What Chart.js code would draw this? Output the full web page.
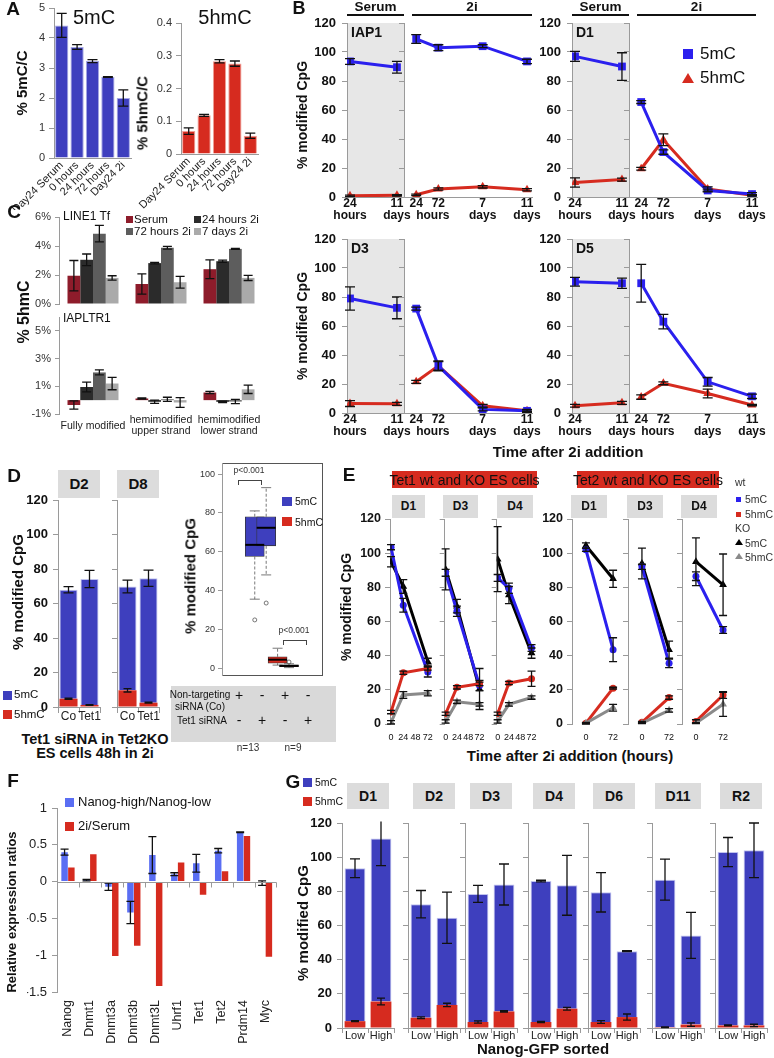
<!DOCTYPE html>
<html>
<head>
<meta charset="utf-8">
<script src="https://cdn.jsdelivr.net/npm/chart.js@4.4.1/dist/chart.umd.min.js"></script>
<style>
  body { margin: 0; background: #fff; }
  #fig { position: relative; width: 774px; height: 1058px; overflow: hidden; font-family: "Liberation Sans", Arial, Helvetica, sans-serif; color: #111; }
  #fig canvas { position: absolute; }
  .t { position: absolute; white-space: pre; line-height: 1.15; }
  .r { position: absolute; box-sizing: border-box; }
</style>
</head>
<body>
<div id="fig"></div>
<script>
// ---- Panel A: global 5mC / 5hmC levels ----
const aCats = ['Day24 Serum', '0 hours', '24 hours', '72 hours', 'Day24 2i'];
const a5mC = [4.42, 3.70, 3.23, 2.70, 2.00];
const a5mCErr = [0.40, 0.08, 0.05, 0.01, 0.27];
const a5hmC = [0.070, 0.118, 0.283, 0.276, 0.056];
const a5hmCErr = [0.010, 0.003, 0.005, 0.008, 0.008];

// ---- Panel B: time course per region (serum part, 2i part) ----
const bRegions = ['IAP1', 'D1', 'D3', 'D5'];
const bSerumDays = [1, 11];
const b2iDays = [1, 3, 7, 11];
const bSerumTicks = { 1: ['24', 'hours'], 11: ['11', 'days'] };
const b2iTicks = { 1: ['24', ''], 2.5: ['', 'hours'], 3: ['72', ''], 7: ['7', 'days'], 11: ['11', 'days'] };
const bSerum5mC = [[93.5, 89.5], [97, 90], [79, 72.5], [90.5, 89.5]];
const bSerum5mCErr = [[2, 4], [3.5, 9.5], [8, 7.5], [3, 3.5]];
const bSerum5hmC = [[0.8, 1.2], [10, 12], [6.5, 6.3], [5, 7]];
const bSerum5hmCErr = [[0.5, 0.5], [3.2, 1], [2, 1], [1, 1]];
const b2i5mC = [[109, 103, 104, 93.5], [65.5, 31, 4.5, 2], [72, 32.5, 2.5, 1.5], [89.5, 63, 21.5, 11.5]];
const b2i5mCErr = [[3, 2, 1, 1.5], [1, 1.5, 1, 1], [1, 3.5, 1, 1], [13, 5, 3, 1.5]];
const b2i5hmC = [[1.5, 5.5, 7, 5], [19.5, 39.5, 5.5, 1.2], [21.5, 32.5, 5, 1.5], [11, 20.5, 13.5, 5.5]];
const b2i5hmCErr = [[0.5, 0.8, 0.8, 0.8], [1, 4, 1.5, 0.5], [1, 3, 1, 0.5], [1.5, 1, 3, 0.5]];

// ---- Panel C: % 5hmC by strand, one row per condition ----
const cGroups = ['Fully modified', ['hemimodified', 'upper strand'], ['hemimodified', 'lower strand']];
const cConditions = ['Serum', '24 hours 2i', '72 hours 2i', '7 days 2i'];
const cLine1 = [[1.95, 1.38, 2.4], [3.05, 2.82, 2.95], [4.85, 3.88, 3.8], [1.8, 1.5, 1.8]];
const cLine1Err = [[1.05, 0.7, 0.65], [0.4, 0.05, 0.07], [0.57, 0.1, 0.03], [0.15, 0.4, 0.18]];
const cIap = [[-0.35, 0.12, 0.55], [0.95, -0.12, -0.12], [2.0, 0.06, -0.1], [1.2, -0.17, 0.78]];
const cIapErr = [[0.3, 0.05, 0.08], [0.35, 0.12, 0.05], [0.18, 0.15, 0.15], [0.45, 0.35, 0.3]];

// ---- Panel D: Tet1 siRNA in Tet2KO cells ----
const dPanels = ['D2', 'D8'];
const dSamples = ['Co', 'Tet1'];
const d5hmC = [[4.8, 1.2], [9.7, 2.5]];
const d5hmCErr = [[0.3, 0.2], [1.0, 0.3]];
const d5mC = [[63.2, 73.0], [60.2, 72.1]];
const dTotalErr = [[1.8, 5.0], [3.7, 4.7]];
const boxGroups = ['5mC Co', '5mC Tet1', '5hmC Co', '5hmC Tet1'];
const boxPos = [1, 2, 3, 4];
const boxMin = [35.5, 48, 1.5, 0.2];
const boxQ1 = [57.5, 63, 2.5, 0.7];
const boxMed = [63.5, 72.3, 4.3, 1.1];
const boxQ3 = [78, 78, 5.8, 1.6];
const boxMax = [81, 93, 10.2, 2.2];
const boxOutliers = [[24.8], [33.5], [], [3.1]];

// ---- Panel E: Tet1 / Tet2 wt and KO time course ----
const eTet1Panels = ['D1', 'D3', 'D4'];
const eTet2Panels = ['D1', 'D3', 'D4'];
const eTet1Hours = [0, 24, 72];
const eTet2Hours = [0, 72];
const eTet1Ticks = { 0: '0', 24: '24', 48: '48', 72: '72' };
const eTet2Ticks = { 0: '0', 72: '72' };
const eTet1Wt5mC = [[103.5, 69.5, 30.5], [88.5, 66, 22.5], [85.5, 79.5, 44.5]];
const eTet1Wt5mCErr = [[1.5, 4, 3], [2, 3, 3], [2, 3, 2]];
const eTet1Ko5mC = [[95, 80.5, 36.5], [90.5, 69, 20.5], [96.5, 75.5, 41.5]];
const eTet1Ko5mCErr = [[3, 4, 2], [12, 4, 12], [19, 5, 3]];
const eTet1Wt5hmC = [[7, 30, 32.5], [6, 21.5, 23.5], [6, 24, 26.5]];
const eTet1Wt5hmCErr = [[1, 1, 1], [1, 1, 1], [1, 1, 4.5]];
const eTet1Ko5hmC = [[1, 17, 18], [1.5, 13, 11.5], [1.5, 11.5, 15.5]];
const eTet1Ko5hmCErr = [[1, 2, 1.5], [1, 1, 1], [1, 1, 1]];
const eTet2Wt5mC = [[102, 43.5], [92, 35.5], [86.5, 55]];
const eTet2Wt5mCErr = [[1, 7], [1.5, 2.5], [2.5, 2]];
const eTet2Ko5mC = [[104.5, 85], [94, 43.5], [95, 81.5]];
const eTet2Ko5mCErr = [[1.5, 5], [9, 5], [14, 18]];
const eTet2Wt5hmC = [[0.5, 21], [1, 15.5], [1.5, 17]];
const eTet2Wt5hmCErr = [[0.5, 0.5], [0.5, 1], [1, 2]];
const eTet2Ko5hmC = [[0.5, 9.5], [0.5, 8], [0.5, 11.5]];
const eTet2Ko5hmCErr = [[0.3, 2], [0.3, 1], [0.3, 7]];

// ---- Panel F: relative expression ----
const fGenes = ['Nanog', 'Dnmt1', 'Dnmt3a', 'Dnmt3b', 'Dnmt3L', 'Uhrf1', 'Tet1', 'Tet2', 'Prdm14', 'Myc'];
const fNanogRatio = [0.40, 0.02, -0.07, -0.42, 0.36, 0.10, 0.25, 0.42, 0.67, -0.02];
const fNanogErr = [0.04, 0.01, 0.05, 0.15, 0.25, 0.02, 0.12, 0.03, 0.005, 0.03];
const f2iSerum = [0.19, 0.37, -1.01, -0.87, -1.42, 0.26, -0.18, 0.14, 0.62, -1.02];

// ---- Panel G: Nanog-GFP sorted cells ----
const gPanels = ['D1', 'D2', 'D3', 'D4', 'D6', 'D11', 'R2'];
const gSorts = ['Low', 'High'];
const g5hmC = [[4, 15.5], [6, 13.5], [3.5, 9.7], [3.5, 11.3], [3.5, 6.4], [0.5, 2], [1.5, 1.5]];
const g5hmCErr = [[0.3, 2], [0.5, 1], [0.7, 0.4], [0.4, 0.8], [0.8, 1.8], [0.2, 1], [0.3, 0.7]];
const g5mC = [[89.5, 95.5], [66.5, 51], [75, 74.3], [82.5, 72.2], [75.9, 38.6], [86.3, 52.2], [101.5, 102.5]];
const gTotalErr = [[5.5, 16], [8, 15], [5, 12], [0.5, 17.5], [11.5, 0.3], [12, 13.5], [8.5, 16]];

// ---- styles ----
const AXIS = '#9a9a9a';
const BAR_BLUE = '#3e3fbe';
const LINE_BLUE = '#2b20ee';
const RED = '#d62b1f';
const F_BLUE = '#5a6ef3';
const C_COLORS = ['#8e1c2b', '#2b2b2b', '#5d5d5d', '#aaaaaa'];
const BOX_COLORS = [BAR_BLUE, BAR_BLUE, RED, RED];

Chart.defaults.font.family = '"Liberation Sans", Arial, Helvetica, sans-serif';
Chart.defaults.color = '#111';

const fig = document.getElementById('fig');

// error bars drawn from each dataset's err array through the y scale
Chart.register({
  id: 'errorBars',
  afterDatasetsDraw(chart) {
    const ctx = chart.ctx, a = chart.chartArea;
    ctx.save();
    ctx.beginPath();
    ctx.rect(a.left - 30, a.top - 1.5, a.width + 60, a.height + 3);
    ctx.clip();
    chart.data.datasets.forEach((ds, i) => {
      if (!ds.err) return;
      const meta = chart.getDatasetMeta(i);
      const ys = chart.scales[meta.yAxisID];
      const cw = ds.cap || 4;
      ctx.strokeStyle = '#111';
      ctx.lineWidth = 1.3;
      meta.data.forEach((el, j) => {
        const e = ds.err[j];
        if (!e) return;
        const v = ys.getValueForPixel(el.y);
        const top = ys.getPixelForValue(v + e), bot = ys.getPixelForValue(v - e);
        ctx.beginPath();
        ctx.moveTo(el.x, top); ctx.lineTo(el.x, bot);
        ctx.moveTo(el.x - cw, top); ctx.lineTo(el.x + cw, top);
        ctx.moveTo(el.x - cw, bot); ctx.lineTo(el.x + cw, bot);
        ctx.stroke();
      });
    });
    ctx.restore();
  }
});

// optional shaded plot area
Chart.register({
  id: 'areaFill',
  beforeDraw(chart, args, opts) {
    if (!opts || !opts.color) return;
    const a = chart.chartArea, ctx = chart.ctx;
    ctx.save();
    ctx.fillStyle = opts.color;
    ctx.fillRect(a.left, a.top, a.width, a.height);
    ctx.restore();
  }
});

function text(str, x, y, o = {}) {
  const d = document.createElement('div');
  d.className = 't';
  d.textContent = str;
  const tx = o.align === 'l' ? '0' : o.align === 'r' ? '-100%' : '-50%';
  d.style.left = x + 'px';
  d.style.top = y + 'px';
  d.style.fontSize = (o.size || 12) + 'px';
  d.style.fontWeight = o.bold ? 'bold' : 'normal';
  d.style.textAlign = o.align === 'l' ? 'left' : 'center';
  if (o.color) d.style.color = o.color;
  d.style.transform = `translate(${tx}, -50%)` + (o.rot ? ` rotate(${o.rot}deg)` : '');
  fig.appendChild(d);
}

function rect(x0, y0, x1, y1, css) {
  const d = document.createElement('div');
  d.className = 'r';
  d.style.cssText = `left:${x0}px;top:${y0}px;width:${x1 - x0}px;height:${y1 - y0}px;${css}`;
  fig.appendChild(d);
}

function triangle(cx, cy, s, color) {
  const d = document.createElement('div');
  d.className = 'r';
  d.style.cssText = `left:${cx - s / 2}px;top:${cy - s * 0.45}px;width:0;height:0;` +
    `border-left:${s / 2}px solid transparent;border-right:${s / 2}px solid transparent;border-bottom:${s * 0.87}px solid ${color};`;
  fig.appendChild(d);
}

function tag(x0, y0, x1, y1, str, size) {
  rect(x0, y0, x1, y1, 'background:#dcdcdc;');
  text(str, (x0 + x1) / 2, (y0 + y1) / 2, { size, bold: true });
}

// chart area placed at [x0,y0,x1,y1] on the page; m = room for axes [left, top, right, bottom]
function makeChart(area, m, cfg) {
  const [x0, y0, x1, y1] = area, [l, t, r, b] = m;
  const w = x1 - x0 + l + r, h = y1 - y0 + t + b;
  const c = document.createElement('canvas');
  c.width = w; c.height = h;
  c.style.cssText = `left:${x0 - l}px;top:${y0 - t}px;width:${w}px;height:${h}px;`;
  fig.appendChild(c);
  const o = cfg.options = cfg.options || {};
  Object.assign(o, { responsive: false, animation: false, devicePixelRatio: 1 });
  o.layout = { autoPadding: false, padding: { left: 0, top: t, right: r, bottom: 0 } };
  o.plugins = Object.assign({ legend: { display: false }, tooltip: { enabled: false } }, o.plugins);
  o.scales.x.afterFit = s => { s.height = b; };
  o.scales.y.afterFit = s => { s.width = l; };
  return new Chart(c, cfg);
}

function yScale(min, max, step, o = {}) {
  const s = {
    min, max, stacked: !!o.stacked,
    ticks: { stepSize: step, display: o.labels !== false, font: o.font || { size: 13, weight: 'bold' }, color: o.color || '#111', padding: o.pad ?? 5 },
    grid: { drawOnChartArea: false, tickLength: o.tl ?? 5, color: AXIS },
    border: { color: AXIS }
  };
  if (o.cb) s.ticks.callback = o.cb;
  if (o.only) s.afterBuildTicks = sc => { sc.ticks = o.only.map(v => ({ value: v })); };
  return s;
}

function catX(o = {}) {
  return {
    stacked: !!o.stacked,
    ticks: { display: o.labels !== false, font: o.font || { size: 11 }, color: '#222', padding: o.pad ?? 2,
      maxRotation: o.rot || 0, minRotation: o.rot || 0, autoSkip: false, crossAlign: o.cross || 'near' },
    grid: { display: !!o.tl, drawOnChartArea: false, tickLength: o.tl || 0, color: AXIS },
    border: { display: o.border !== false, color: AXIS }
  };
}

function linX(min, max, labels, font, pad, border) {
  const vals = Object.keys(labels).map(Number);
  return {
    type: 'linear', min, max,
    afterBuildTicks: s => { s.ticks = vals.map(v => ({ value: v })); },
    ticks: { callback: v => labels[v] ?? '', font, color: '#111', padding: pad, maxRotation: 0, minRotation: 0, autoSkip: false },
    grid: { display: false, drawTicks: false, tickLength: 0 },
    border: { display: border, color: AXIS }
  };
}

function lineSet(xs, ys, err, color, style, r, cap) {
  return {
    data: xs.map((x, i) => ({ x, y: ys[i] })), err, cap: cap || 5,
    borderColor: color, backgroundColor: color, pointBackgroundColor: color, pointBorderColor: color,
    borderWidth: 3, pointStyle: style, pointRadius: r, pointBorderWidth: 0, tension: 0
  };
}

// ================= Panel A =================
makeChart([54, 8, 131, 158], [50, 16, 6, 52], {
  type: 'bar',
  data: { labels: aCats, datasets: [{ data: a5mC, err: a5mCErr, cap: 5, backgroundColor: BAR_BLUE, borderColor: '#a6a8e4', borderWidth: 1, barPercentage: 0.86, categoryPercentage: 1 }] },
  options: { scales: { x: catX({ rot: 45, font: { size: 11 }, pad: 1 }), y: yScale(0, 5, 1, { font: { size: 11 }, color: '#333', pad: 4 }) } }
});
makeChart([181, 23, 258, 154], [50, 16, 10, 55], {
  type: 'bar',
  data: { labels: aCats, datasets: [{ data: a5hmC, err: a5hmCErr, cap: 5, backgroundColor: RED, borderColor: '#f0a096', borderWidth: 1, barPercentage: 0.86, categoryPercentage: 1 }] },
  options: { scales: { x: catX({ rot: 45, font: { size: 11 }, pad: 1 }), y: yScale(0, 0.4, 0.1, { font: { size: 11 }, color: '#333', pad: 4 }) } }
});
text('A', 13, 9, { size: 19, bold: true });
text('5mC', 94, 17, { size: 20 });
text('5hmC', 225, 17, { size: 20 });
text('% 5mC/C', 22, 83, { size: 15, bold: true, rot: -90 });
text('% 5hmC/C', 142, 113, { size: 15, bold: true, rot: -90 });

// ================= Panel B =================
function bPanel(k, sx, top) {
  const mid = sx + 57, end = sx + 185, bot = top + 174;
  const xf = { size: 12, weight: 'bold', lineHeight: 1.0 };
  makeChart([sx, top, mid, bot], [42, 16, 22, 40], {
    type: 'line',
    data: { datasets: [
      lineSet(bSerumDays, bSerum5mC[k], bSerum5mCErr[k], LINE_BLUE, 'rect', 5.5),
      lineSet(bSerumDays, bSerum5hmC[k], bSerum5hmCErr[k], RED, 'triangle', 5)
    ] },
    options: {
      plugins: { areaFill: { color: '#e7e7e7' } },
      scales: { x: linX(0.36, 12.5, bSerumTicks, xf, 1, true), y: yScale(0, 120, 20, { pad: 6 }) }
    }
  });
  makeChart([mid, top, end, bot], [6, 16, 22, 40], {
    type: 'line',
    data: { datasets: [
      lineSet(b2iDays, b2i5mC[k], b2i5mCErr[k], LINE_BLUE, 'rect', 5.5),
      lineSet(b2iDays, b2i5hmC[k], b2i5hmCErr[k], RED, 'triangle', 5)
    ] },
    options: { scales: { x: linX(-0.1, 11.45, b2iTicks, xf, 1, true), y: yScale(0, 120, 20, { labels: false }) } }
  });
  text(bRegions[k], sx + 4, top + 9, { size: 14, bold: true, align: 'l' });
}
bPanel(0, 347, 23);
bPanel(1, 572, 23);
bPanel(2, 347, 239);
bPanel(3, 572, 239);
text('B', 299, 8, { size: 18, bold: true });
[[347, 404, 'Serum'], [412, 532, '2i'], [572, 629, 'Serum'], [637, 756, '2i']].forEach(([a, b, s]) => {
  rect(a, 14, b, 16, 'background:#111;');
  text(s, (a + b) / 2, 7, { size: 13.5, bold: true });
});
rect(683, 49, 693, 59, `background:${LINE_BLUE};`);
text('5mC', 700, 54, { size: 17, align: 'l' });
triangle(688, 78, 12, RED);
text('5hmC', 700, 78, { size: 17, align: 'l' });
text('% modified CpG', 302, 115, { size: 14, bold: true, rot: -90 });
text('% modified CpG', 302, 326, { size: 14, bold: true, rot: -90 });
text('Time after 2i addition', 568, 452, { size: 15, bold: true });

// ================= Panel C =================
function cChart(area, vals, errs, min, showX) {
  makeChart(area, [30, 16, 12, showX ? 36 : 14], {
    type: 'bar',
    data: { labels: cGroups, datasets: cConditions.map((name, k) => ({
      label: name, data: vals[k], err: errs[k], cap: 4.5, backgroundColor: C_COLORS[k], categoryPercentage: 0.75, barPercentage: 1
    })) },
    options: { scales: {
      x: catX({ labels: showX, border: false, font: { size: 10.5, lineHeight: 1.1 }, cross: 'center', pad: 6 }),
      y: yScale(min, 6, 1, { font: { size: 11 }, color: '#333', pad: 4, tl: 4, cb: v => v + '%' })
    } }
  });
}
cChart([59, 217, 263, 304], cLine1, cLine1Err, 0, false);
cChart([59, 317, 263, 414], cIap, cIapErr, -1, true);
text('C', 14, 212, { size: 19, bold: true });
text('LINE1 Tf', 63, 217, { size: 12, align: 'l' });
text('IAPLTR1', 63, 319, { size: 12, align: 'l' });
[[126, 220, 0], [194, 220, 1], [126, 232, 2], [194, 232, 3]].forEach(([x, y, k]) => {
  rect(x, y - 4, x + 7, y + 3, `background:${C_COLORS[k]};`);
  text(cConditions[k], x + 8, y, { size: 11.5, align: 'l' });
});
text('% 5hmC', 24, 312, { size: 16, bold: true, rot: -90 });

// ================= Panel D =================
dPanels.forEach((name, k) => {
  const x0 = k === 0 ? 58 : 117;
  makeChart([x0, 500, x0 + 42, 707], [k === 0 ? 36 : 6, 16, 10, 20], {
    type: 'bar',
    data: { labels: dSamples, datasets: [
      { data: d5hmC[k], err: d5hmCErr[k], cap: 4, backgroundColor: RED, barPercentage: 0.86, categoryPercentage: 1 },
      { data: d5mC[k], err: dTotalErr[k], cap: 5, backgroundColor: BAR_BLUE, borderColor: '#c0c3ee', borderWidth: 1, barPercentage: 0.86, categoryPercentage: 1 }
    ] },
    options: { scales: {
      x: catX({ stacked: true, tl: 6, pad: -4, font: { size: 12 } }),
      y: yScale(0, 120, 20, { stacked: true, labels: k === 0, pad: 5 })
    } }
  });
  tag(x0, 470, x0 + 42, 498, name, 15);
});
text('D', 14, 476, { size: 19, bold: true });
text('% modified CpG', 18, 592, { size: 15, bold: true, rot: -90 });
rect(3, 691, 12, 700, `background:${BAR_BLUE};`);
text('5mC', 14, 695, { size: 11.5, align: 'l' });
rect(3, 710, 12, 719, `background:${RED};`);
text('5hmC', 14, 715, { size: 11.5, align: 'l' });
text('Tet1 siRNA in Tet2KO', 95, 739, { size: 14.5, bold: true });
text('ES cells 48h in 2i', 95, 753, { size: 14.5, bold: true });

// boxplot
const boxWhiskers = {
  id: 'boxWhiskers',
  afterDatasetsDraw(chart) {
    const { ctx, scales: { x, y } } = chart;
    ctx.save();
    boxPos.forEach((p, i) => {
      const px = x.getPixelForValue(p);
      const yMin = y.getPixelForValue(boxMin[i]), yMax = y.getPixelForValue(boxMax[i]);
      ctx.strokeStyle = '#555'; ctx.lineWidth = 0.8;
      ctx.setLineDash([3, 2]);
      ctx.beginPath();
      ctx.moveTo(px, y.getPixelForValue(boxQ3[i])); ctx.lineTo(px, yMax);
      ctx.moveTo(px, y.getPixelForValue(boxQ1[i])); ctx.lineTo(px, yMin);
      ctx.stroke();
      ctx.setLineDash([]);
      ctx.beginPath();
      ctx.moveTo(px - 5, yMax); ctx.lineTo(px + 5, yMax);
      ctx.moveTo(px - 5, yMin); ctx.lineTo(px + 5, yMin);
      ctx.stroke();
      const ym = y.getPixelForValue(boxMed[i]);
      ctx.strokeStyle = '#000'; ctx.lineWidth = 2;
      ctx.beginPath(); ctx.moveTo(px - 9.5, ym); ctx.lineTo(px + 9.5, ym); ctx.stroke();
    });
    ctx.restore();
  }
};
rect(222, 463, 323, 676, 'border:1px solid #555;');
makeChart([222, 463, 322, 675], [30, 16, 10, 14], {
  type: 'bar',
  data: { datasets: [
    { data: boxPos.map((p, i) => ({ x: p, y: [boxQ1[i], boxQ3[i]] })), backgroundColor: BOX_COLORS,
      borderColor: '#333', borderWidth: 0.8, borderSkipped: false, barThickness: 19 },
    { type: 'scatter', data: boxOutliers.flatMap((arr, i) => arr.map(v => ({ x: boxPos[i], y: v }))),
      pointRadius: 2, pointStyle: 'circle', borderColor: '#555', backgroundColor: 'rgba(0,0,0,0)', borderWidth: 0.8 }
  ] },
  options: { scales: {
    x: { type: 'linear', min: 0.32, max: 4.7, ticks: { display: false }, grid: { display: false, drawTicks: false, tickLength: 0 }, border: { display: false } },
    y: yScale(-3.6, 105.7, 20, { only: [0, 20, 40, 60, 80, 100], font: { size: 9 }, color: '#333', pad: 3, tl: 4 })
  } },
  plugins: [boxWhiskers]
});
text('p<0.001', 249, 471, { size: 8.5, color: '#333' });
rect(238, 480, 262, 485, 'border:1px solid #444;border-bottom:none;');
text('p<0.001', 294, 631, { size: 8.5, color: '#333' });
rect(283, 640, 307, 645, 'border:1px solid #444;border-bottom:none;');
rect(282, 497, 292, 506, `background:${BAR_BLUE};`);
text('5mC', 295, 501, { size: 10.5, align: 'l' });
rect(282, 517, 292, 526, `background:${RED};`);
text('5hmC', 295, 522, { size: 10.5, align: 'l' });
text('% modified CpG', 190, 576, { size: 15, bold: true, rot: -90 });
rect(171, 686, 336, 742, 'background:#d9d9d9;');
text('Non-targeting', 200, 695, { size: 10 });
text('siRNA (Co)', 200, 707, { size: 10 });
text('Tet1 siRNA', 202, 721, { size: 10 });
[['+', '-', '+', '-'], ['-', '+', '-', '+']].forEach((row, r) => {
  row.forEach((s, i) => text(s, 239 + i * 23, r === 0 ? 695 : 720, { size: 14 }));
});
text('n=13', 248, 748, { size: 10, color: '#333' });
text('n=9', 293, 748, { size: 10, color: '#333' });

// ================= Panel E =================
function eChart(x0, x1, first, hours, ticks, xmin, xmax, s) {
  makeChart([x0, 519, x1, 724], [first ? 30 : 6, 16, 20, 20], {
    type: 'line',
    data: { datasets: [
      lineSet(hours, s.ko5hmC, s.ko5hmCErr, '#8a8a8a', 'triangle', 4.5, 4),
      lineSet(hours, s.wt5hmC, s.wt5hmCErr, RED, 'circle', 3.5, 4),
      lineSet(hours, s.wt5mC, s.wt5mCErr, LINE_BLUE, 'circle', 3.5, 4),
      lineSet(hours, s.ko5mC, s.ko5mCErr, '#000', 'triangle', 4.5, 4)
    ] },
    options: { scales: {
      x: linX(xmin, xmax, ticks, { size: 9 }, 8, false),
      y: yScale(0, 120, 20, { labels: first, font: { size: 12.5, weight: 'bold' }, pad: 4 })
    } }
  });
}
const eTet1Areas = [[390, 437], [441, 488], [493, 540]];
const eTet2Areas = [[572, 624], [628, 680], [682, 734]];
eTet1Panels.forEach((name, k) => {
  eChart(eTet1Areas[k][0], eTet1Areas[k][1], k === 0, eTet1Hours, eTet1Ticks, -2, 90, {
    wt5mC: eTet1Wt5mC[k], wt5mCErr: eTet1Wt5mCErr[k], ko5mC: eTet1Ko5mC[k], ko5mCErr: eTet1Ko5mCErr[k],
    wt5hmC: eTet1Wt5hmC[k], wt5hmCErr: eTet1Wt5hmCErr[k], ko5hmC: eTet1Ko5hmC[k], ko5hmCErr: eTet1Ko5hmCErr[k]
  });
});
eTet2Panels.forEach((name, k) => {
  eChart(eTet2Areas[k][0], eTet2Areas[k][1], k === 0, eTet2Hours, eTet2Ticks, -37, 101, {
    wt5mC: eTet2Wt5mC[k], wt5mCErr: eTet2Wt5mCErr[k], ko5mC: eTet2Ko5mC[k], ko5mCErr: eTet2Ko5mCErr[k],
    wt5hmC: eTet2Wt5hmC[k], wt5hmCErr: eTet2Wt5hmCErr[k], ko5hmC: eTet2Ko5hmC[k], ko5hmCErr: eTet2Ko5hmCErr[k]
  });
});
text('E', 349, 475, { size: 19, bold: true });
rect(392, 471, 537, 488, `background:${RED};`);
text('Tet1 wt and KO ES cells', 464.5, 479.5, { size: 14 });
rect(577, 471, 719, 488, `background:${RED};`);
text('Tet2 wt and KO ES cells', 648, 479.5, { size: 14 });
[[392, 425], [443, 478], [497, 533]].forEach(([a, b], k) => tag(a, 495, b, 518, eTet1Panels[k], 12));
[[571, 607], [627, 663], [681, 717]].forEach(([a, b], k) => tag(a, 495, b, 518, eTet2Panels[k], 12));
text('wt', 735, 482, { size: 10.5, align: 'l', color: '#333' });
rect(736, 497, 741, 502, `background:${LINE_BLUE};`);
text('5mC', 745, 499, { size: 10.5, align: 'l', color: '#333' });
rect(736, 512, 741, 517, `background:${RED};`);
text('5hmC', 745, 514, { size: 10.5, align: 'l', color: '#333' });
text('KO', 735, 528, { size: 10.5, align: 'l', color: '#333' });
triangle(738.5, 543, 8, '#000');
text('5mC', 745, 543, { size: 10.5, align: 'l', color: '#333' });
triangle(738.5, 557, 8, '#8a8a8a');
text('5hmC', 745, 557, { size: 10.5, align: 'l', color: '#333' });
text('% modified CpG', 346, 607, { size: 14, bold: true, rot: -90 });
text('Time after 2i addition (hours)', 570, 756, { size: 15, bold: true });

// ================= Panel F =================
const fZeroAxis = {
  id: 'fZeroAxis',
  afterDatasetsDraw(chart) {
    const { ctx, chartArea: a, scales: { y } } = chart;
    const y0 = Math.round(y.getPixelForValue(0)) + 0.5;
    const n = chart.data.labels.length;
    ctx.save();
    ctx.strokeStyle = AXIS; ctx.lineWidth = 1;
    ctx.beginPath();
    ctx.moveTo(a.left, y0); ctx.lineTo(a.right, y0);
    for (let i = 1; i <= n; i++) {
      const px = Math.round(a.left + i * a.width / n) + 0.5;
      ctx.moveTo(px, y0); ctx.lineTo(px, y0 + 5);
    }
    ctx.stroke();
    ctx.restore();
  }
};
makeChart([57, 808, 279, 992], [30, 16, 10, 60], {
  type: 'bar',
  data: { labels: fGenes, datasets: [
    { data: fNanogRatio, err: fNanogErr, cap: 4, backgroundColor: F_BLUE, categoryPercentage: 0.62, barPercentage: 0.95 },
    { data: f2iSerum, backgroundColor: RED, categoryPercentage: 0.62, barPercentage: 0.95 }
  ] },
  options: { scales: {
    x: catX({ rot: 90, border: false, font: { size: 12.5 }, pad: 8 }),
    y: yScale(-1.5, 1, 0.5, { font: { size: 13 }, color: '#222', pad: 5, cb: v => String(v) })
  } },
  plugins: [fZeroAxis]
});
text('F', 13, 781, { size: 19, bold: true });
rect(65, 798, 74, 807, `background:${F_BLUE};`);
text('Nanog-high/Nanog-low', 78, 802, { size: 13, align: 'l' });
rect(65, 822, 74, 831, `background:${RED};`);
text('2i/Serum', 78, 826, { size: 13, align: 'l' });
text('Relative expression ratios', 12, 912, { size: 13, bold: true, rot: -90 });

// ================= Panel G =================
const gAxes = [342, 408, 465, 528, 588, 652, 715];
gPanels.forEach((name, k) => {
  const x0 = gAxes[k];
  makeChart([x0, 823, x0 + 52, 1028], [k === 0 ? 36 : 6, 16, 10, 18], {
    type: 'bar',
    data: { labels: gSorts, datasets: [
      { data: g5hmC[k], err: g5hmCErr[k], cap: 4, backgroundColor: RED, barPercentage: 0.8, categoryPercentage: 1 },
      { data: g5mC[k], err: gTotalErr[k], cap: 5, backgroundColor: BAR_BLUE, borderColor: '#c0c3ee', borderWidth: 1, barPercentage: 0.8, categoryPercentage: 1 }
    ] },
    options: { scales: {
      x: catX({ stacked: true, tl: 5, pad: -4, font: { size: 11 } }),
      y: yScale(0, 120, 20, { stacked: true, labels: k === 0, pad: 5 })
    } }
  });
  const w = name === 'D11' ? 23 : 21;
  tag(x0 + 26 - w, 783, x0 + 26 + w, 809, name, 14);
});
text('G', 293, 782, { size: 19, bold: true });
rect(303, 778, 312, 787, `background:${BAR_BLUE};`);
text('5mC', 315, 782, { size: 10.5, align: 'l' });
rect(303, 797, 312, 806, `background:${RED};`);
text('5hmC', 315, 801, { size: 10.5, align: 'l' });
text('% modified CpG', 303, 923, { size: 15, bold: true, rot: -90 });
text('Nanog-GFP sorted', 543, 1049, { size: 15, bold: true });
</script>
</body>
</html>
